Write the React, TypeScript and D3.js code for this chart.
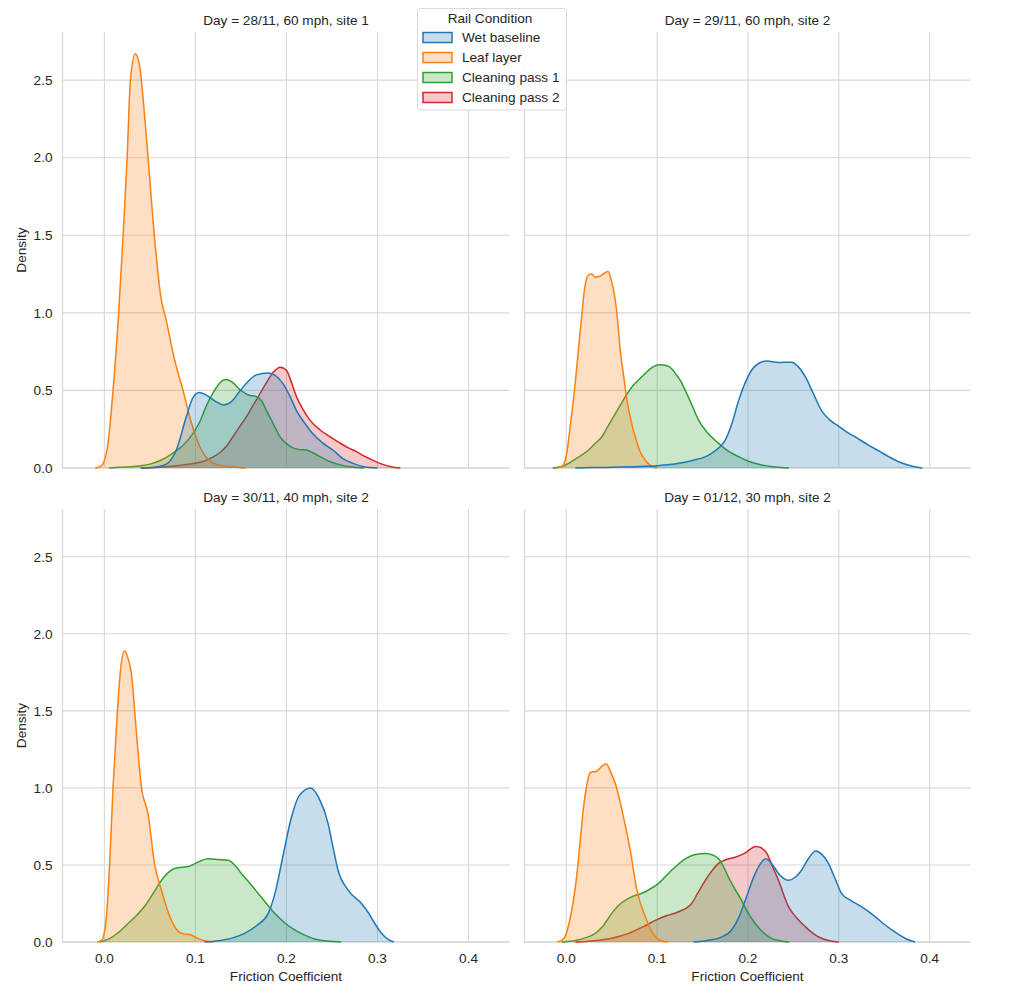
import React from "react";
import * as d3 from "d3";

// ---------------- DATA ----------------
const conditions = ["Wet baseline", "Leaf layer", "Cleaning pass 1", "Cleaning pass 2"];
const colors = ["#1f77b4", "#ff7f0e", "#2ca02c", "#d62728"];
const panelTitles = [
  "Day = 28/11, 60 mph, site 1",
  "Day = 29/11, 60 mph, site 2",
  "Day = 30/11, 40 mph, site 2",
  "Day = 01/12, 30 mph, site 2",
];
const xTicks = [0.0, 0.1, 0.2, 0.3, 0.4];
const yTicks = [0.0, 0.5, 1.0, 1.5, 2.0, 2.5];

type Pt = [number, number];

// Panel 1: 28/11
const p1Wet: Pt[] = [[0.04,0],[0.055,0.005],[0.068,0.025],[0.079,0.116],[0.09,0.33],[0.097,0.45],[0.104,0.487],[0.112,0.47],[0.122,0.43],[0.131,0.406],[0.14,0.43],[0.148,0.49],[0.156,0.546],[0.167,0.6],[0.18,0.612],[0.188,0.595],[0.196,0.545],[0.204,0.46],[0.211,0.37],[0.22,0.29],[0.229,0.22],[0.24,0.16],[0.251,0.116],[0.262,0.06],[0.273,0.03],[0.285,0.008],[0.3,0]];
const p1Leaf: Pt[] = [[-0.01,0],[-0.004,0.01],[0.003,0.12],[0.0095,0.5],[0.0157,1.0],[0.0205,1.49],[0.025,2.0],[0.0286,2.5],[0.034,2.67],[0.0388,2.59],[0.043,2.35],[0.048,2.0],[0.055,1.49],[0.0626,1.08],[0.067,0.976],[0.077,0.7],[0.0864,0.5],[0.0956,0.29],[0.1066,0.116],[0.115,0.05],[0.125,0.02],[0.14,0.008],[0.155,0]];
const p1Pass1: Pt[] = [[0.005,0],[0.017,0.005],[0.035,0.012],[0.05,0.025],[0.062,0.05],[0.075,0.095],[0.087,0.15],[0.097,0.22],[0.105,0.3],[0.112,0.4],[0.12,0.49],[0.127,0.55],[0.133,0.57],[0.14,0.555],[0.149,0.505],[0.158,0.47],[0.167,0.46],[0.173,0.43],[0.178,0.37],[0.186,0.28],[0.193,0.2],[0.204,0.14],[0.213,0.12],[0.222,0.116],[0.23,0.095],[0.237,0.073],[0.248,0.04],[0.259,0.02],[0.27,0.008],[0.285,0]];
const p1Pass2: Pt[] = [[0.04,0],[0.06,0.005],[0.08,0.015],[0.099,0.03],[0.11,0.045],[0.119,0.07],[0.127,0.1],[0.134,0.14],[0.141,0.2],[0.149,0.27],[0.156,0.33],[0.163,0.4],[0.17,0.47],[0.178,0.55],[0.186,0.62],[0.193,0.65],[0.2,0.63],[0.205,0.56],[0.211,0.46],[0.218,0.38],[0.2256,0.31],[0.237,0.245],[0.248,0.2],[0.259,0.16],[0.268,0.13],[0.277,0.105],[0.286,0.075],[0.295,0.05],[0.305,0.025],[0.315,0.008],[0.325,0]];

// Panel 2: 29/11
const p2Wet: Pt[] = [[0.01,0],[0.04,0.004],[0.08,0.01],[0.1,0.015],[0.124,0.03],[0.14,0.05],[0.152,0.07],[0.16,0.095],[0.168,0.13],[0.175,0.18],[0.182,0.28],[0.19,0.44],[0.197,0.55],[0.204,0.63],[0.212,0.675],[0.2208,0.69],[0.2336,0.68],[0.248,0.682],[0.255,0.655],[0.263,0.59],[0.272,0.48],[0.281,0.37],[0.29,0.31],[0.2996,0.27],[0.308,0.235],[0.318,0.2],[0.3326,0.148],[0.344,0.11],[0.355,0.073],[0.368,0.035],[0.38,0.013],[0.392,0]];
const p2Leaf: Pt[] = [[-0.012,0],[-0.005,0.01],[0.0,0.08],[0.005,0.3],[0.0099,0.55],[0.014,0.8],[0.017,0.98],[0.02,1.15],[0.0245,1.245],[0.028,1.25],[0.032,1.23],[0.038,1.24],[0.043,1.26],[0.046,1.267],[0.05,1.2],[0.054,1.08],[0.057,0.92],[0.0594,0.76],[0.063,0.6],[0.0667,0.44],[0.071,0.31],[0.076,0.2],[0.081,0.11],[0.087,0.05],[0.093,0.015],[0.1,0]];
const p2Pass1: Pt[] = [[-0.015,0],[-0.005,0.01],[0.0026,0.03],[0.012,0.065],[0.0245,0.116],[0.032,0.16],[0.039,0.2],[0.045,0.26],[0.05,0.31],[0.058,0.39],[0.065,0.46],[0.074,0.535],[0.08,0.57],[0.087,0.61],[0.095,0.65],[0.1034,0.665],[0.11,0.66],[0.116,0.64],[0.12,0.61],[0.126,0.56],[0.131,0.5],[0.138,0.41],[0.1455,0.31],[0.155,0.23],[0.1675,0.16],[0.178,0.11],[0.1896,0.073],[0.2,0.045],[0.215,0.02],[0.23,0.006],[0.245,0]];
const p2Pass2: Pt[] = [];

// Panel 3: 30/11
const p3Wet: Pt[] = [[0.11,0],[0.125,0.008],[0.14,0.025],[0.154,0.056],[0.168,0.11],[0.18,0.186],[0.188,0.33],[0.1945,0.51],[0.2055,0.81],[0.214,0.95],[0.2267,1.0],[0.236,0.93],[0.2457,0.77],[0.251,0.62],[0.2567,0.466],[0.2677,0.337],[0.2824,0.25],[0.29,0.19],[0.297,0.12],[0.304,0.06],[0.312,0.015],[0.318,0]];
const p3Leaf: Pt[] = [[-0.008,0],[-0.003,0.01],[0.002,0.15],[0.0058,0.51],[0.0095,1.0],[0.0143,1.5],[0.018,1.78],[0.0223,1.89],[0.026,1.84],[0.0297,1.74],[0.035,1.37],[0.0407,1.006],[0.048,0.83],[0.055,0.51],[0.0626,0.337],[0.068,0.23],[0.0736,0.14],[0.0846,0.056],[0.0956,0.045],[0.102,0.025],[0.11,0.008],[0.12,0]];
const p3Pass1: Pt[] = [[-0.005,0],[0.005,0.02],[0.015,0.06],[0.026,0.12],[0.035,0.17],[0.044,0.23],[0.053,0.31],[0.0626,0.4],[0.07,0.45],[0.077,0.477],[0.085,0.485],[0.092,0.49],[0.1,0.51],[0.107,0.53],[0.114,0.54],[0.125,0.535],[0.136,0.53],[0.143,0.5],[0.1505,0.445],[0.16,0.38],[0.169,0.315],[0.178,0.25],[0.187,0.186],[0.198,0.125],[0.209,0.078],[0.22,0.045],[0.231,0.02],[0.245,0.006],[0.26,0]];
const p3Pass2: Pt[] = [];

// Panel 4: 01/12
const p4Wet: Pt[] = [[0.14,0],[0.155,0.01],[0.17,0.03],[0.182,0.078],[0.19,0.16],[0.197,0.27],[0.208,0.445],[0.214,0.51],[0.2196,0.54],[0.226,0.51],[0.2336,0.445],[0.2446,0.4],[0.252,0.42],[0.259,0.466],[0.267,0.545],[0.2746,0.59],[0.281,0.57],[0.2886,0.51],[0.296,0.41],[0.303,0.315],[0.313,0.27],[0.325,0.23],[0.3306,0.207],[0.34,0.165],[0.349,0.12],[0.358,0.08],[0.367,0.045],[0.375,0.018],[0.384,0]];
const p4Leaf: Pt[] = [[-0.01,0],[-0.003,0.02],[0.003,0.12],[0.0118,0.445],[0.016,0.7],[0.019,0.876],[0.022,1.0],[0.0264,1.1],[0.0338,1.11],[0.039,1.14],[0.044,1.157],[0.049,1.1],[0.054,1.028],[0.063,0.81],[0.0704,0.596],[0.0777,0.337],[0.087,0.164],[0.093,0.08],[0.098,0.034],[0.105,0.008],[0.112,0]];
const p4Pass1: Pt[] = [[-0.005,0],[0.01,0.01],[0.02,0.025],[0.0319,0.056],[0.04,0.1],[0.05,0.186],[0.058,0.24],[0.0686,0.283],[0.087,0.326],[0.1015,0.38],[0.116,0.466],[0.131,0.54],[0.142,0.568],[0.153,0.575],[0.161,0.565],[0.1676,0.54],[0.173,0.49],[0.1786,0.42],[0.186,0.34],[0.193,0.27],[0.2,0.19],[0.208,0.12],[0.217,0.06],[0.226,0.024],[0.235,0.008],[0.245,0]];
const p4Pass2: Pt[] = [[0.01,0],[0.03,0.008],[0.05,0.025],[0.0686,0.056],[0.085,0.1],[0.098,0.14],[0.11,0.17],[0.1235,0.196],[0.138,0.25],[0.145,0.32],[0.153,0.4],[0.16,0.46],[0.1676,0.51],[0.176,0.535],[0.186,0.55],[0.196,0.575],[0.2087,0.62],[0.215,0.61],[0.2208,0.575],[0.227,0.49],[0.2336,0.4],[0.2446,0.23],[0.253,0.16],[0.263,0.1],[0.272,0.055],[0.281,0.024],[0.29,0.008],[0.3,0]];

const panelCurves: Pt[][][] = [
  [p1Wet, p1Leaf, p1Pass1, p1Pass2],
  [p2Wet, p2Leaf, p2Pass1, p2Pass2],
  [p3Wet, p3Leaf, p3Pass1, p3Pass2],
  [p4Wet, p4Leaf, p4Pass1, p4Pass2],
];

// ---------------- LAYOUT ----------------
const W = 1024;
const H = 997;
const colX = [62.5, 524.5];
const colW = [447, 446];
const rowY = [32, 509];
const rowH = [436, 433];
const xDomain: [number, number] = [-0.046, 0.445];
const yDomain: [number, number] = [0, 2.81];
const FONT = "'Liberation Sans', Arial, sans-serif";
const FS = 13.6;
const TEXT = "#262626";
const GRID = "#d8d8d8";

function Panel({ idx }: { idx: number }) {
  const col = idx % 2;
  const row = Math.floor(idx / 2);
  const x0 = colX[col];
  const y0 = rowY[row];
  const w = colW[col];
  const h = rowH[row];
  const x = d3.scaleLinear().domain(xDomain).range([x0, x0 + w]);
  const y = d3.scaleLinear().domain(yDomain).range([y0 + h, y0]);
  const area = d3
    .area<Pt>()
    .x((d) => x(d[0]))
    .y0(y(0))
    .y1((d) => y(d[1]))
    .curve(d3.curveMonotoneX);
  const line = d3
    .line<Pt>()
    .x((d) => x(d[0]))
    .y((d) => y(d[1]))
    .curve(d3.curveMonotoneX);
  const curves = panelCurves[idx];
  const order = [3, 2, 1, 0];
  return (
    <g>
      {xTicks.map((t) => (
        <line key={"gx" + t} x1={x(t)} x2={x(t)} y1={y0} y2={y0 + h} stroke={GRID} strokeWidth={1.1} />
      ))}
      {yTicks.map((t) => (
        <line key={"gy" + t} x1={x0} x2={x0 + w} y1={y(t)} y2={y(t)} stroke={GRID} strokeWidth={1.1} />
      ))}
      {/* spines */}
      <line x1={x0} x2={x0} y1={y0} y2={y0 + h} stroke={GRID} strokeWidth={1.3} />
      <line x1={x0} x2={x0 + w} y1={y0 + h} y2={y0 + h} stroke={GRID} strokeWidth={1.3} />
      {order.map((ci) =>
        curves[ci].length ? (
          <g key={"c" + ci}>
            <path d={area(curves[ci]) || ""} fill={colors[ci]} fillOpacity={0.25} stroke="none" />
            <path d={line(curves[ci]) || ""} fill="none" stroke={colors[ci]} strokeWidth={1.5} strokeLinejoin="round" />
          </g>
        ) : null
      )}
      <text x={x0 + w / 2} y={y0 - 7} textAnchor="middle" fontSize={FS} fill={TEXT} fontFamily={FONT}>
        {panelTitles[idx]}
      </text>
      {col === 0 &&
        yTicks.map((t) => (
          <text key={"ty" + t} x={x0 - 10} y={y(t)} dy="0.35em" textAnchor="end" fontSize={FS} fill={TEXT} fontFamily={FONT}>
            {t.toFixed(1)}
          </text>
        ))}
      {col === 0 && (
        <text
          transform={`translate(${x0 - 37},${y0 + h / 2}) rotate(-90)`}
          textAnchor="middle"
          fontSize={FS}
          fill={TEXT}
          fontFamily={FONT}
        >
          Density
        </text>
      )}
      {row === 1 &&
        xTicks.map((t) => (
          <text key={"tx" + t} x={x(t)} y={y0 + h + 21} textAnchor="middle" fontSize={FS} fill={TEXT} fontFamily={FONT}>
            {t.toFixed(1)}
          </text>
        ))}
      {row === 1 && (
        <text x={x0 + w / 2} y={y0 + h + 39} textAnchor="middle" fontSize={FS} fill={TEXT} fontFamily={FONT}>
          Friction Coefficient
        </text>
      )}
    </g>
  );
}

function Legend() {
  const lx = 417.5;
  const ly = 8.5;
  const lw = 149;
  const lh = 101.5;
  return (
    <g>
      <rect x={lx} y={ly} width={lw} height={lh} rx={3} fill="#ffffff" fillOpacity={0.9} stroke="#d8d8d8" strokeWidth={1} />
      <text x={lx + lw / 2 - 2} y={ly + 14.5} textAnchor="middle" fontSize={FS} fill={TEXT} fontFamily={FONT}>
        Rail Condition
      </text>
      {conditions.map((c, i) => (
        <g key={c}>
          <rect x={423} y={32.5 + i * 20} width={29} height={10} fill={colors[i]} fillOpacity={0.25} stroke={colors[i]} strokeWidth={1.5} />
          <text x={462} y={37.5 + i * 20} dy="0.35em" fontSize={FS} fill={TEXT} fontFamily={FONT}>
            {c}
          </text>
        </g>
      ))}
    </g>
  );
}

export default function App() {
  return (
    <svg width={W} height={H} style={{ position: "absolute", left: 0, top: 0, background: "#fff" }}>
      <rect x={0} y={0} width={W} height={H} fill="#fff" />
      {[0, 1, 2, 3].map((i) => (
        <Panel key={i} idx={i} />
      ))}
      <Legend />
    </svg>
  );
}
